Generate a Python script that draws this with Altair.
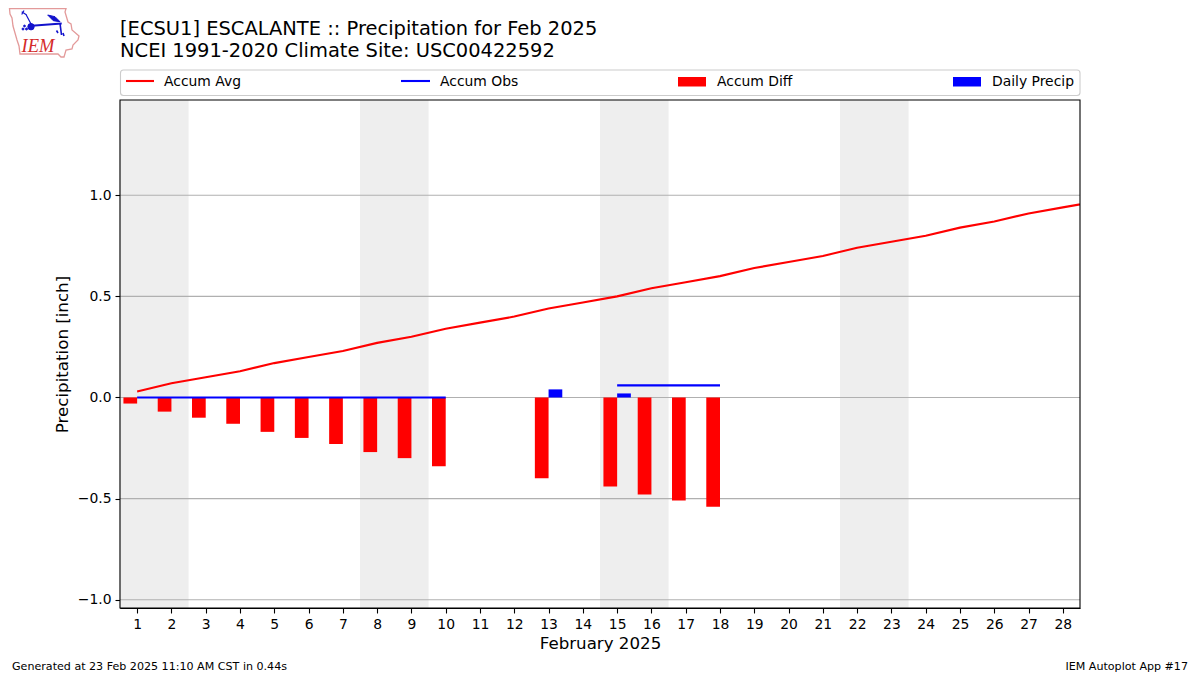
import base64
import altair as alt
import pandas as pd

days = list(range(1, 30))
accum_avg = [.03, .07, .10, .13, .17, .20, .23, .27, .30, .34, .37, .40, .44, .47, .50,
             .54, .57, .60, .64, .67, .70, .74, .77, .80, .84, .87, .91, .94, .97]
obs_days = [1, 2, 3, 4, 5, 6, 7, 8, 9, 10, 15, 16, 17, 18]
accum_obs = [0, 0, 0, 0, 0, 0, 0, 0, 0, 0, .06, .06, .06, .06]
obs_segment = [1] * 10 + [2] * 4
diff_days = [1, 2, 3, 4, 5, 6, 7, 8, 9, 10, 13, 15, 16, 17, 18]
accum_diff = [-.03, -.07, -.10, -.13, -.17, -.20, -.23, -.27, -.30, -.34, -.40, -.44, -.48, -.51, -.54]
precip_days = [13, 15]
daily_precip = [.04, .02]
weekend_start = [0.5, 7.5, 14.5, 21.5]
weekend_end = [2.5, 9.5, 16.5, 23.5]
y_ticks = [-1.0, -0.5, 0.0, 0.5, 1.0]
x_ticks = list(range(1, 29))

BAR = 0.4
FONT = "DejaVu Sans"
X = alt.Scale(domain=[0.5, 28.5], nice=False, zero=False)
Y = alt.Scale(domain=[-1.041, 1.471], nice=False, zero=False)

xq = alt.X("a:Q", scale=X, axis=alt.Axis(values=x_ticks, format="d", grid=False, title="February 2025",
                                         labelAngle=0, titlePadding=4, labelPadding=4.5))
yq = alt.Y("b:Q", scale=Y, axis=alt.Axis(values=y_ticks, format=".1f", grid=False, title="Precipitation [inch]",
                                         titlePadding=6, labelPadding=4))

shade = alt.Chart(pd.DataFrame({"a": weekend_start, "a2": weekend_end})).mark_rect(color="#eeeeee").encode(
    x=xq, x2="a2:Q")
grid = alt.Chart(pd.DataFrame({"b": y_ticks})).mark_rule(color="#b0b0b0", strokeWidth=1.1).encode(y=yq)
diff = alt.Chart(pd.DataFrame({"d": diff_days, "b": accum_diff})).transform_calculate(
    a=f"datum.d-{BAR}", a2="datum.d", b2="0").mark_bar(color="#ff0000", clip=True).encode(
    x=xq, x2="a2:Q", y=yq, y2="b2:Q")
precip = alt.Chart(pd.DataFrame({"d": precip_days, "b": daily_precip})).transform_calculate(
    a="datum.d", a2=f"datum.d+{BAR}", b2="0").mark_bar(color="#0000ff", clip=True).encode(
    x=xq, x2="a2:Q", y=yq, y2="b2:Q")
avg = alt.Chart(pd.DataFrame({"a": days, "b": accum_avg})).mark_line(color="#ff0000", strokeWidth=2.1, clip=True).encode(
    x=xq, y=yq)
obs = alt.Chart(pd.DataFrame({"a": obs_days, "b": accum_obs, "s": obs_segment})).mark_line(
    color="#0000ff", strokeWidth=2.1, clip=True).encode(x=xq, y=yq, detail="s:N")

one = alt.Data(values=[{"k": 0}])
OX, OY = 120, 100  # page position of the plot origin

border = alt.Chart(one).mark_rect(fillOpacity=0, stroke="black", strokeWidth=1.1).encode(
    x=alt.value(0), x2=alt.value(960), y=alt.value(0), y2=alt.value(508))


def label(text, px, py, size, align="left", **kw):
    return alt.Chart(one).mark_text(text=text, font=FONT, fontSize=size, align=align, baseline="middle",
                                    color="black", **kw).encode(x=alt.value(px - OX), y=alt.value(py - OY))


texts = [
    label("[ECSU1] ESCALANTE :: Precipitation for Feb 2025", 120, 29, 19.47),
    label("NCEI 1991-2020 Climate Site: USC00422592", 120, 50.5, 19.47),
    label("Generated at 23 Feb 2025 11:10 AM CST in 0.44s", 12, 666.7, 11.1),
    label("IEM Autoplot App #17", 1188, 666.7, 11.1, align="right"),
]

legend_box = alt.Chart(one).mark_rect(fill="white", stroke="#cccccc", strokeWidth=1.1, cornerRadius=3).encode(
    x=alt.value(120.5 - OX), x2=alt.value(1080 - OX), y=alt.value(70 - OY), y2=alt.value(95.5 - OY))

legend = [legend_box]
for name, tx in [("Accum Avg", 164), ("Accum Obs", 440), ("Accum Diff", 717), ("Daily Precip", 992)]:
    legend.append(label(name, tx, 81.8, 13.9))
for color, x0, x1 in [("#ff0000", 126, 154), ("#0000ff", 401, 430)]:
    legend.append(alt.Chart(one).mark_rule(color=color, strokeWidth=2.1).encode(
        x=alt.value(x0 - OX), x2=alt.value(x1 - OX), y=alt.value(81 - OY)))
for color, x0, x1 in [("#ff0000", 678, 706), ("#0000ff", 953, 981)]:
    legend.append(alt.Chart(one).mark_rect(color=color).encode(
        x=alt.value(x0 - OX), x2=alt.value(x1 - OX), y=alt.value(77 - OY), y2=alt.value(86.5 - OY)))

logo_svg = """<svg xmlns="http://www.w3.org/2000/svg" width="110" height="65" viewBox="0 0 110 65">
<path d="M9.5 8.7 L66 8.7 L65 12 L68 22 L71 24 L72 30 L79 36 L78 40 L73 45 L72 49 L66 50 L64 57 L61 57 L58 54
L20 54 L19 46 L17 40 L15 33 L13 26 L12 18 L10 14 Z" fill="white" stroke="#e39a9a" stroke-width="1.3"/>
<g stroke="#1212cc" fill="#1212cc">
<path d="M31.7 25.7 L61.7 23.5" stroke-width="2"/>
<circle cx="31" cy="26.7" r="3.2"/>
<path d="M21.7 11.7 L26.7 15 M24 10.5 L21.7 14.5 M26 14.5 L31 24" stroke-width="1.2" fill="none"/>
<path d="M47.7 15 L55 16.7 L60 21.7 L53.3 20.7 Z"/>
<path d="M60 23.3 L61.5 35 M56.5 30.5 L58 33 M63 33 L64 36" stroke-width="1.6" fill="none"/>
<circle cx="24.5" cy="26" r="0.9"/><circle cx="23" cy="29" r="1"/><circle cx="26.5" cy="29" r="1"/>
</g></svg>"""
logo_url = "data:image/svg+xml;base64," + base64.b64encode(logo_svg.encode()).decode()
logo = alt.Chart(one).mark_image(url=logo_url, width=110, height=65).encode(
    x=alt.value(55 - OX), y=alt.value(32.5 - OY))
logo_text = alt.Chart(one).mark_text(text="IEM", font="Liberation Serif", fontSize=18.5, fontStyle="italic",
                                     align="left", baseline="middle", color="#d42a2a").encode(
    x=alt.value(21.5 - OX), y=alt.value(45.5 - OY))

chart = alt.layer(shade, grid, diff, precip, avg, obs, border, *legend, *texts, logo, logo_text).properties(
    width=960, height=508,
    autosize=alt.AutoSizeParams(type="none"),
    padding={"left": 112, "top": 92, "right": 112, "bottom": 67},
).configure_view(stroke=None).configure_axis(
    domainColor="black", domainWidth=1.1, tickColor="black", tickWidth=1.1, tickSize=5,
    labelFont=FONT, labelFontSize=13.9, labelColor="black",
    titleFont=FONT, titleFontSize=16.67, titleFontWeight="normal", titleColor="black",
)

chart.save("out.html", embed_options={"renderer": "svg", "actions": False})
